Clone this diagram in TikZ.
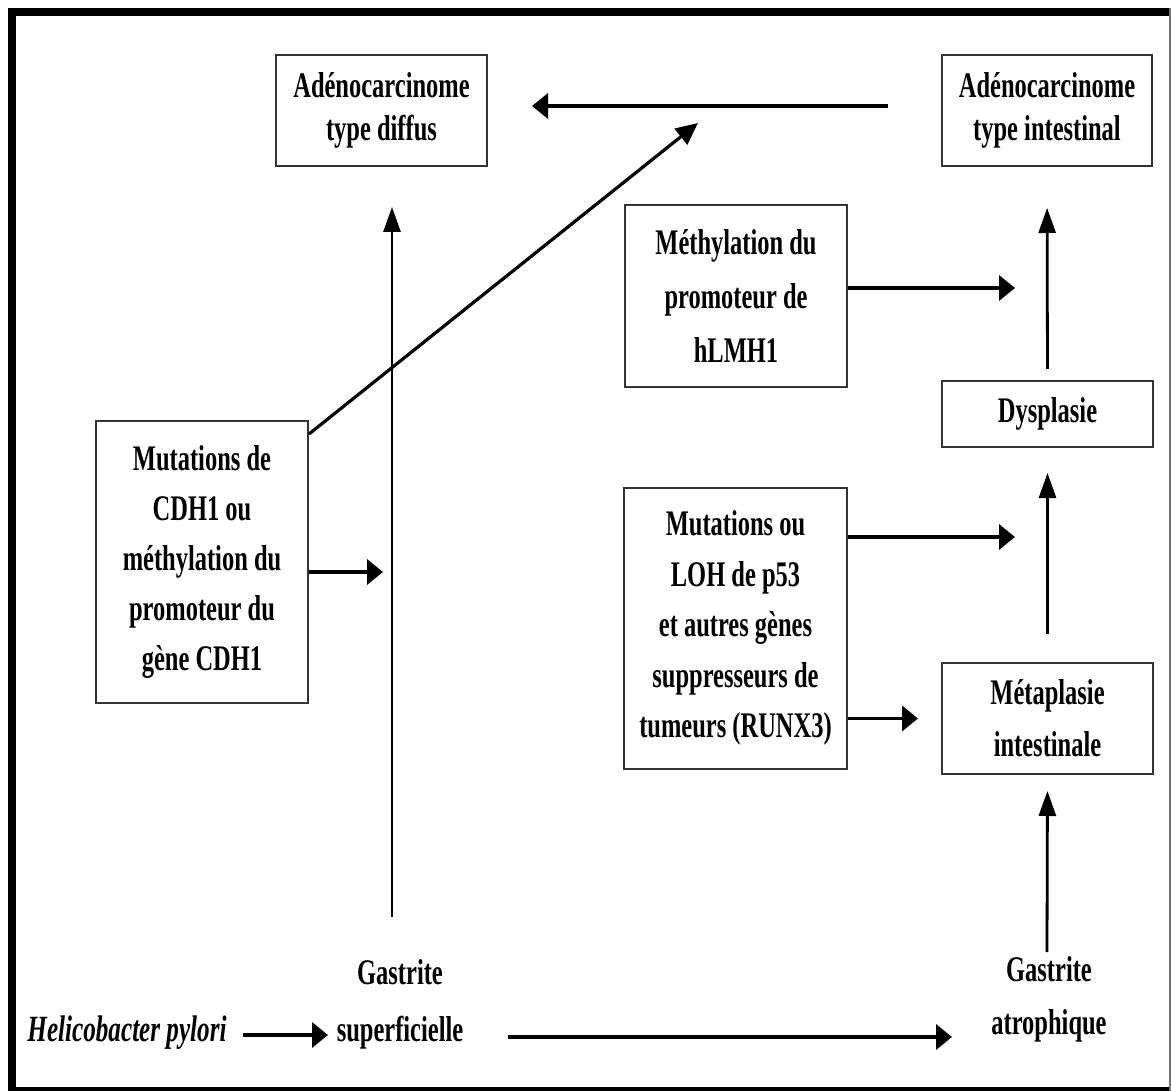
\documentclass[tikz,border=0pt]{standalone}
\usepackage{fontspec}
\newfontfamily\cf{Liberation Serif}[FakeStretch=0.68]
\usetikzlibrary{arrows.meta}
\tikzset{
  box/.style={draw=black!80, line width=2pt, inner sep=0pt, align=center,
    font=\cf\bfseries\fontsize{36}{50}\selectfont},
  lbl/.style={inner sep=0pt, align=center, font=\cf\bfseries\fontsize{36}{50}\selectfont},
  varrow/.style={line width=2.8pt, -{Triangle[length=25pt,width=17pt]}},
  harrow/.style={line width=3.6pt, -{Triangle[length=16pt,width=25pt]}},
  darrow/.style={line width=3.2pt, -{Triangle[length=22pt,width=20pt]}},
}
\begin{document}
\begin{tikzpicture}[x=1pt,y=-1pt]
\useasboundingbox (0,0) rectangle (1171,1091);
\clip (0,0) rectangle (1171,1091);
% frame
\fill[black] (8,8) rectangle (16,1091);
\fill[black] (8,8) rectangle (1171,16);
\fill[black] (8,1087) rectangle (1171,1091);
\fill[black!55] (1168.5,8) rectangle (1171,1091);

% boxes
\node[box, minimum width=211pt, minimum height=111pt, font=\cf\bfseries\fontsize{36}{43}\selectfont] (adkd) at (381.5,110.5) {Adénocarcinome\\type diffus};
\node[box, minimum width=210pt, minimum height=111pt, font=\cf\bfseries\fontsize{36}{43}\selectfont] (adki) at (1047,110.5) {Adénocarcinome\\type intestinal};
\node[box, minimum width=222pt, minimum height=182pt, font=\cf\bfseries\fontsize{36}{54}\selectfont] (meth) at (736,296) {Méthylation du\\promoteur de\\hLMH1};
\node[box, minimum width=211pt, minimum height=66pt] (dys) at (1047.5,414) {Dysplasie};
\node[box, minimum width=212pt, minimum height=282pt] (cdh) at (202,562) {Mutations de\\CDH1 ou\\méthylation du\\promoteur du\\gène CDH1};
\node[box, minimum width=223pt, minimum height=281pt, font=\cf\bfseries\fontsize{36}{50.5}\selectfont] (p53) at (735.5,628) {Mutations ou\\LOH de p53\\et autres gènes\\suppresseurs de\\tumeurs (RUNX3)};
\node[box, minimum width=211pt, minimum height=111pt, font=\cf\bfseries\fontsize{36}{52}\selectfont] (meta) at (1047.5,718.5) {Métaplasie\\intestinale};

% plain labels
\node[lbl, font=\cf\bfseries\itshape\fontsize{37}{50}\selectfont] (hp) at (127,1033) {Helicobacter pylori};
\node[lbl, font=\cf\bfseries\fontsize{36}{57}\selectfont] (gs) at (400,1004) {Gastrite\\superficielle};
\node[lbl, font=\cf\bfseries\fontsize{36}{53}\selectfont] (ga) at (1049,999) {Gastrite\\atrophique};

% free ends
\coordinate (gsTop) at (392,917);
\coordinate (vTip) at (392,207);
\coordinate (dTip) at (698,123);
\coordinate (cdhTip) at (383,572);
\coordinate (methTip) at (1015,288);
\coordinate (p53Tip) at (1015,537);
\coordinate (gaTop) at (1047,952);
\coordinate (gsR) at (508,1037);
\coordinate (gaL) at (952,1037);
\coordinate (hpR) at (243,1035);
\coordinate (gsL) at (328,1035);

% connectors
\draw[harrow] (hpR) -- (gsL);
\draw[harrow] (gsR) -- (gaL);
\draw[varrow] (gsTop) -- (vTip);
\draw[harrow, shorten <=53pt, shorten >=44pt] ([yshift=4.5pt]adki.west) -- ([yshift=4.5pt]adkd.east);
\draw[darrow] ([yshift=-14pt]cdh.north east) -- (dTip);
\draw[harrow] ([yshift=-10pt]cdh.east) -- (cdhTip);
\draw[harrow] ([yshift=8pt]meth.east) -- (methTip);
\draw[harrow] ([yshift=91pt]p53.east) -- (p53Tip);
\draw[harrow, shorten >=23pt] (p53.east |- meta.west) -- (meta.west);
\draw[varrow, shorten <=28pt, shorten >=25pt] (meta.north) -- (dys.south);
\draw[varrow, shorten <=11pt, shorten >=41pt] (dys.north) -- (adki.south);
\draw[varrow, shorten >=16pt] (gaTop) -- (meta.south);
\end{tikzpicture}
\end{document}
